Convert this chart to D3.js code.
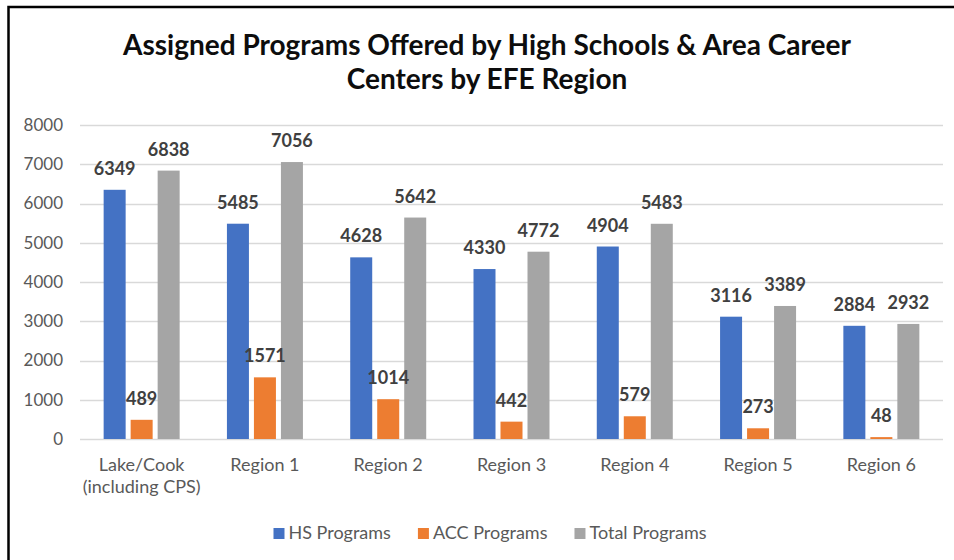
<!DOCTYPE html>
<html>
<head>
<meta charset="utf-8">
<script src="https://cdn.jsdelivr.net/npm/d3@7"></script>
<style>
  body { margin: 0; background: #fff; }
  svg { display: block; font-family: Lato, "Open Sans", sans-serif; }
</style>
</head>
<body>
<script>
var categories = ["Lake/Cook\n(including CPS)", "Region 1", "Region 2", "Region 3", "Region 4", "Region 5", "Region 6"];
var seriesNames = ["HS Programs", "ACC Programs", "Total Programs"];
var hsPrograms = [6349, 5485, 4628, 4330, 4904, 3116, 2884];
var accPrograms = [489, 1571, 1014, 442, 579, 273, 48];
var totalPrograms = [6838, 7056, 5642, 4772, 5483, 3389, 2932];
var yTicks = [0, 1000, 2000, 3000, 4000, 5000, 6000, 7000, 8000];
var colors = ["#4472C4", "#ED7D31", "#A5A5A5"];

var w = 954;
var h = 560;
var seriesValues = [hsPrograms, accPrograms, totalPrograms];

var svg = d3.select("body")
  .append("svg")
  .attr("width", w)
  .attr("height", h);

svg.append("rect")
  .attr("width", w)
  .attr("height", h)
  .attr("fill", "#fff");

// frame (only the top and left edges show in the crop)
svg.append("path")
  .attr("d", "M8.5," + h + "V7H" + w)
  .attr("fill", "none")
  .attr("stroke", "#000")
  .attr("stroke-width", 2.5);

// title
var title = svg.append("text")
  .attr("text-anchor", "middle")
  .attr("font-weight", "bold")
  .attr("font-size", "28px")
  .attr("fill", "#0d0d0d");
title.append("tspan").attr("x", 487).attr("y", 55)
  .text("Assigned Programs Offered by High Schools & Area Career");
title.append("tspan").attr("x", 487).attr("y", 89)
  .text("Centers by EFE Region");

var x = d3.scaleBand()
  .domain(d3.range(categories.length))
  .range([80, 943]);

var xInner = d3.scaleBand()
  .domain(d3.range(seriesNames.length))
  .range([-38, 38])
  .paddingInner(5 / 27);

var y = d3.scaleLinear()
  .domain([0, 8000])
  .range([439, 125]);

// gridlines
svg.append("g")
  .selectAll("line")
  .data(yTicks)
  .enter()
  .append("line")
  .attr("x1", 80)
  .attr("x2", 943)
  .attr("y1", function(d) { return Math.round(y(d)) + 0.5; })
  .attr("y2", function(d) { return Math.round(y(d)) + 0.5; })
  .attr("stroke", "#d9d9d9")
  .attr("stroke-width", 1.5);

// y axis labels
var yAxis = svg.append("g")
  .attr("transform", "translate(80,0)")
  .call(d3.axisLeft(y).tickValues(yTicks).tickSize(0).tickPadding(17).tickFormat(d3.format("d")));
yAxis.select(".domain").remove();
yAxis.selectAll("text")
  .attr("font-family", "Lato, sans-serif")
  .attr("font-size", "17px")
  .attr("fill", "#595959");

function barX(i, s) {
  return x(i) + x.bandwidth() / 2 + xInner(s);
}

// bars
var barLayer = svg.append("g");
var labelLayer = svg.append("g");

seriesValues.forEach(function(vals, s) {
  barLayer.append("g")
    .attr("fill", colors[s])
    .selectAll("rect")
    .data(vals)
    .enter()
    .append("rect")
    .attr("x", function(d, i) { return barX(i, s); })
    .attr("y", function(d) { return y(d); })
    .attr("width", xInner.bandwidth())
    .attr("height", function(d) { return y(0) - y(d); });

  labelLayer.append("g")
    .selectAll("text")
    .data(vals)
    .enter()
    .append("text")
    .text(function(d) { return d; })
    .attr("x", function(d, i) { return barX(i, s) + xInner.bandwidth() / 2; })
    .attr("y", function(d) { return y(d) - 15; })
    .attr("text-anchor", "middle")
    .attr("font-weight", "bold")
    .attr("font-size", "18px")
    .attr("fill", "#404040");
});

// x labels
var xLabels = svg.append("g")
  .selectAll("text")
  .data(categories)
  .enter()
  .append("text")
  .attr("text-anchor", "middle")
  .attr("font-size", "18px")
  .attr("fill", "#595959");
xLabels.each(function(d, i) {
  var t = d3.select(this);
  d.split("\n").forEach(function(line, k) {
    t.append("tspan")
      .attr("x", x(i) + x.bandwidth() / 2)
      .attr("y", 471 + k * 22)
      .text(line);
  });
});

// legend
var legend = svg.append("g");
var items = legend.selectAll("g")
  .data(seriesNames)
  .enter()
  .append("g");
items.append("rect")
  .attr("width", 11)
  .attr("height", 11)
  .attr("y", 528)
  .attr("fill", function(d, i) { return colors[i]; });
items.append("text")
  .text(function(d) { return d; })
  .attr("x", 15)
  .attr("y", 539)
  .attr("font-size", "18px")
  .attr("fill", "#595959");
var widths = [];
items.each(function() {
  var tw = d3.select(this).select("text").node().getComputedTextLength();
  widths.push(15 + tw);
});
var total = d3.sum(widths) + 27 * (widths.length - 1);
var offset = 490 - total / 2;
items.attr("transform", function(d, i) {
  var tx = offset;
  offset += widths[i] + 27;
  return "translate(" + tx + ",0)";
});
</script>
</body>
</html>
